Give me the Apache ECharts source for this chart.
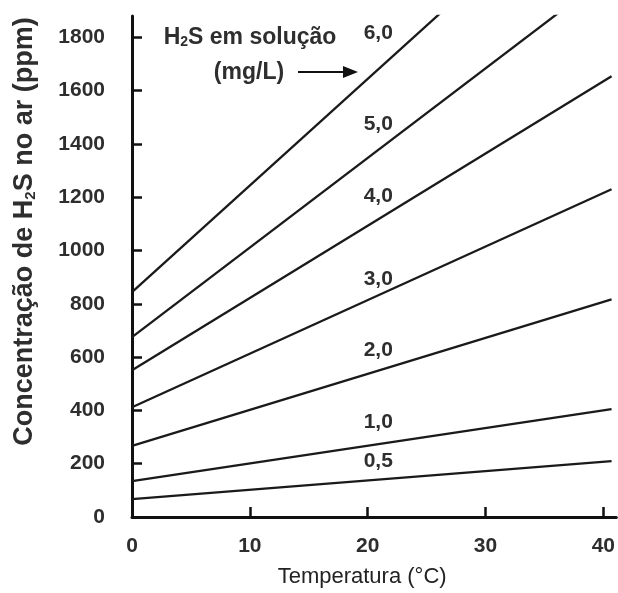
<!DOCTYPE html>
<html>
<head>
<meta charset="utf-8">
<script src="https://cdn.jsdelivr.net/npm/echarts@6/dist/echarts.min.js"></script>
<style>
  html, body { margin: 0; padding: 0; background: #fff; }
  #chart { width: 618px; height: 593px; }
</style>
</head>
<body>
<div id="chart"></div>
<script>
// Temperatura (°C) nos extremos de cada reta
const temperaturas = [0, 40.7];

// Concentração de H2S no ar (ppm), uma reta por concentração em solução (mg/L)
const conc05 = [67, 210];
const conc10 = [135, 405];
const conc20 = [267, 817];
const conc30 = [412, 1230];
const conc40 = [551, 1654];
const conc50 = [675, 2043];
const conc60 = [844, 2472];

const rotulos = ['0,5', '1,0', '2,0', '3,0', '4,0', '5,0', '6,0'];
const series_ = [conc05, conc10, conc20, conc30, conc40, conc50, conc60];

// Marcações dos eixos
const ticksX = [0, 10, 20, 30, 40];
const ticksY = [0, 200, 400, 600, 800, 1000, 1200, 1400, 1600, 1800];

// Posição dos rótulos das retas: temperatura de ancoragem e deslocamento acima da reta (px)
const tRotulo = 20.9;
const elevRotulo = [18, 22, 20, 16, 23, 26, 36];

const corTexto = '#2e2e2e';
const corLinha = '#1a1a1a';
const fonte = 'Liberation Sans, Arial, Helvetica, sans-serif';

function valorEm(t, arr) {
  const f = (t - temperaturas[0]) / (temperaturas[1] - temperaturas[0]);
  return arr[0] + f * (arr[1] - arr[0]);
}

const chart = echarts.init(document.getElementById('chart'), null, { renderer: 'canvas' });

const option = {
  animation: false,
  backgroundColor: '#fff',
  textStyle: { fontFamily: fonte },
  grid: { left: 132, right: 1, top: 16, bottom: 75 },
  xAxis: {
    type: 'value',
    min: 0,
    max: 41.1,
    interval: 10,
    splitLine: { show: false },
    axisLine: { show: true, lineStyle: { color: '#111', width: 3 } },
    axisTick: {
      show: true, inside: true, length: 10,
      lineStyle: { color: '#111', width: 2.5 },
      customValues: ticksX.filter(v => v > 0)
    },
    axisLabel: {
      margin: 19, fontSize: 21, fontWeight: 'bold', color: corTexto, fontFamily: fonte,
      customValues: ticksX,
      formatter: v => String(v)
    },
    name: 'Temperatura (°C)',
    nameLocation: 'middle',
    nameGap: 49,
    nameTextStyle: { fontSize: 22, color: '#222', fontFamily: fonte, padding: [0, 24, 0, 0] }
  },
  yAxis: {
    type: 'value',
    min: 0,
    max: 1880,
    interval: 200,
    splitLine: { show: false },
    axisLine: { show: true, lineStyle: { color: '#111', width: 3 } },
    axisTick: {
      show: true, inside: true, length: 10,
      lineStyle: { color: '#111', width: 2.5 },
      customValues: ticksY.filter(v => v > 0)
    },
    axisLabel: {
      margin: 27, fontSize: 21, fontWeight: 'bold', color: corTexto, fontFamily: fonte,
      customValues: ticksY,
      formatter: v => String(v)
    },
    name: 'Concentração de H{sub|2}S no ar (ppm)',
    nameLocation: 'middle',
    nameGap: 94,
    nameTextStyle: {
      fontSize: 27, fontWeight: 'bold', color: corTexto, fontFamily: fonte,
      padding: [0, 0, 0, 70],
      rich: {
        sub: { fontSize: 15, fontWeight: 'bold', color: corTexto, fontFamily: fonte, verticalAlign: 'bottom', padding: [10, 0, 0, 0] }
      }
    }
  },
  series: series_.map((arr, i) => ({
    type: 'line',
    name: rotulos[i],
    data: temperaturas.map((t, k) => [t, arr[k]]),
    showSymbol: false,
    clip: true,
    silent: true,
    lineStyle: { color: corLinha, width: 2.3 },
    markPoint: {
      silent: true,
      symbol: 'circle',
      symbolSize: 0,
      data: [{ coord: [tRotulo, valorEm(tRotulo, arr)] }],
      label: {
        show: true,
        position: 'inside',
        offset: [0, -elevRotulo[i]],
        formatter: rotulos[i],
        fontSize: 21,
        fontWeight: 'bold',
        color: corTexto,
        fontFamily: fonte
      }
    }
  })),
  graphic: [
    {
      type: 'text',
      x: 250, y: 38,
      style: {
        text: 'H{sub|2}S em solução',
        textAlign: 'center',
        textVerticalAlign: 'middle',
        font: 'bold 23px ' + fonte,
        fill: corTexto,
        rich: {
          sub: { fontSize: 14, fontWeight: 'bold', fill: corTexto, verticalAlign: 'bottom', padding: [8, 0, 0, 0] }
        }
      }
    },
    {
      type: 'text',
      x: 249, y: 73,
      style: {
        text: '(mg/L)',
        textAlign: 'center',
        textVerticalAlign: 'middle',
        font: 'bold 23px ' + fonte,
        fill: corTexto
      }
    },
    {
      type: 'line',
      shape: { x1: 298, y1: 72, x2: 346, y2: 72 },
      style: { stroke: '#111', lineWidth: 2 }
    },
    {
      type: 'polygon',
      shape: { points: [[343, 66], [358, 72], [343, 78]] },
      style: { fill: '#111' }
    }
  ]
};

chart.setOption(option);
</script>
</body>
</html>
